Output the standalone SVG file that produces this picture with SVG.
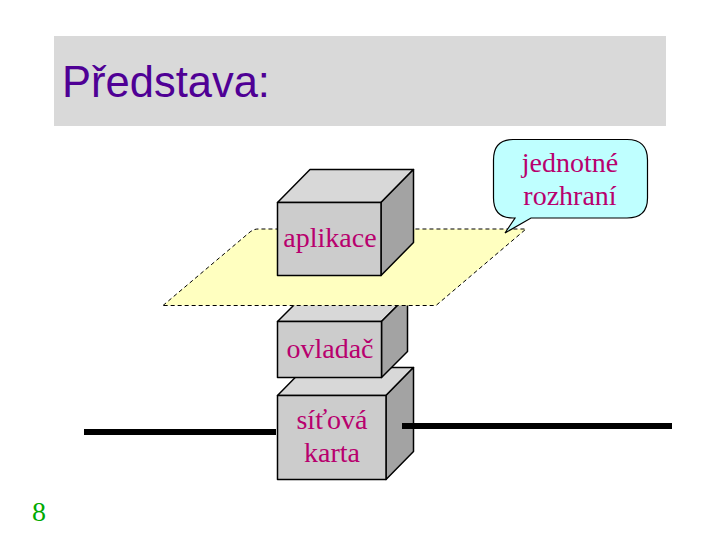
<svg xmlns="http://www.w3.org/2000/svg" width="720" height="540" viewBox="0 0 720 540">
<style>
text{font-family:"Liberation Serif",serif;font-size:28px;fill:#b8006e;text-anchor:middle}
.title{font-family:"Liberation Sans",sans-serif;font-size:43.500px;fill:#4f0095;text-anchor:start}
.num{font-size:28px;fill:#00aa00}
.front{fill:#cccccc;stroke:#000;stroke-width:1.500;stroke-linejoin:round}
.top{fill:#d8d8d8;stroke:#000;stroke-width:1.500;stroke-linejoin:round}
.side{fill:#a3a3a3;stroke:#000;stroke-width:1.500;stroke-linejoin:round}
.wire{stroke:#000;stroke-width:6;fill:none}
</style>
<rect x="54" y="36" width="612" height="90" fill="#d9d9d9"/>
<text class="title" x="62" y="96.500">Představa:</text>
<g id="karta">
<path class="top" d="M277.500 395.500L305 367.500H413.500L386 395.500Z"/>
<path class="side" d="M386 395.500L413.500 367.500V451.500L386 479.500Z"/>
<rect class="front" x="277.500" y="395.500" width="108.500" height="84"/>
<text x="332" y="429">síťová</text>
<text x="332" y="462">karta</text>
</g>
<g id="ovladac">
<path class="top" d="M277.500 321.500L303.500 295.500H407.500L381.500 321.500Z"/>
<path class="side" d="M381.500 321.500L407.500 295.500V351.500L381.500 377.500Z"/>
<rect class="front" x="277.500" y="321.500" width="104" height="56"/>
<text x="330" y="358">ovladač</text>
</g>
<g id="plane"><path d="M163 305.500L250 232Q254 229 258 229H526L436 305.500Z" fill="#ffffc0" stroke="#000" stroke-width="1" stroke-dasharray="4 3"/></g>
<g id="callout">
<path d="M513 139.500H627Q647.500 139.500 647.500 160V198Q647.500 218 627 218H531L505 233L515 218H513Q493.500 218 493.500 198V160Q493.500 139.500 513 139.500Z" fill="#bfffff" stroke="#000" stroke-width="1.200"/>
<text x="570" y="172">jednotné</text>
<text x="570" y="205">rozhraní</text>
</g>
<g id="aplikace">
<path class="top" d="M277.500 202.500L310 169.500H413.500L381 202.500Z"/>
<path class="side" d="M381 202.500L413.500 169.500V242.500L381 275.500Z"/>
<rect class="front" x="277.500" y="202.500" width="103.500" height="73"/>
<text x="330" y="247">aplikace</text>
</g>
<g id="connectors">
<path class="wire" d="M84 432H276"/>
<path class="wire" d="M402 426H672"/>
</g>
<text class="num" x="39" y="521">8</text>
</svg>
